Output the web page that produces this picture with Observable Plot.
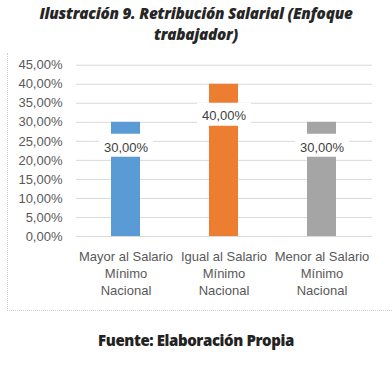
<!DOCTYPE html>
<html>
<head>
<meta charset="utf-8">
<script src="https://cdn.jsdelivr.net/npm/d3@7"></script>
<script src="https://cdn.jsdelivr.net/npm/@observablehq/plot@0.6"></script>
<style>
  html, body { margin: 0; padding: 0; background: #fff; }
  #wrap { position: relative; width: 392px; height: 369px; overflow: hidden; background: #fff; }
  #title { position: absolute; left: 0; top: 3px; width: 392px; text-align: center;
    font-family: "Open Sans", sans-serif; font-weight: 800; font-style: italic;
    font-size: 15.3px; line-height: 21px; color: #262626; letter-spacing: -0.25px; }
  #frame { position: absolute; left: 7px; top: 53px; width: 400px; height: 257px;
    border-left: 1px dotted #cfcfcf; border-bottom: 1px dotted #cfcfcf; }
  #chart { position: absolute; left: 0; top: 45px; }
  #caption { position: absolute; left: 0; top: 330px; width: 392px; text-align: center;
    font-family: "Open Sans", sans-serif; font-weight: 800; font-size: 15px;
    line-height: 20px; color: #222; letter-spacing: -0.4px; }
</style>
</head>
<body>
<div id="wrap">
  <div id="title">Ilustración 9. Retribución Salarial (Enfoque<br>trabajador)</div>
  <div id="frame"></div>
  <div id="chart"></div>
  <div id="caption">Fuente: Elaboración Propia</div>
</div>
<script>
const categories = ["Mayor al Salario Mínimo Nacional", "Igual al Salario Mínimo Nacional", "Menor al Salario Mínimo Nacional"];
const tickLabels = ["Mayor al Salario\nMínimo\nNacional", "Igual al Salario\nMínimo\nNacional", "Menor al Salario\nMínimo\nNacional"];
const values = [0.30, 0.40, 0.30];
const colors = ["#5B9BD5", "#ED7D31", "#A5A5A5"];
const yTicks = [0, 0.05, 0.10, 0.15, 0.20, 0.25, 0.30, 0.35, 0.40, 0.45];

const data = categories.map((c, i) => ({cat: c, value: values[i]}));
const fmt = d => (d * 100).toFixed(2).replace(".", ",") + "%";

// rectangular label-box symbol (white background behind data labels)
const labelBox = {draw(ctx) { ctx.rect(-27, -11.5, 54, 23); }};

const low = data.filter(d => d.value < 0.35);
const high = data.filter(d => d.value >= 0.35);

const chart = Plot.plot({
  width: 392,
  height: 270,
  marginLeft: 76,
  marginRight: 20,
  marginTop: 19.7,
  marginBottom: 79,
  style: {fontFamily: "'Liberation Sans', sans-serif", fontSize: "13px", color: "#595959", background: "transparent", overflow: "visible"},
  x: {domain: categories, paddingInner: 0.7, paddingOuter: 0.35, label: null},
  y: {domain: [0, 0.45], label: null},
  color: {domain: categories, range: colors},
  marks: [
    Plot.gridY(yTicks, {stroke: "#d9d9d9", strokeOpacity: 1}),
    Plot.axisY(yTicks, {tickSize: 0, tickPadding: 14, tickFormat: fmt, fill: "#595959", fontSize: 13, label: null}),
    Plot.axisX({tickSize: 0, tickPadding: 12, tickFormat: d => tickLabels[categories.indexOf(d)], lineHeight: 1.31, fill: "#595959", fontSize: 13, label: null}),
    Plot.barY(data, {x: "cat", y: "value", fill: "cat"}),
    Plot.dot(low, {x: "cat", y: "value", symbol: labelBox, r: 5, fill: "#fff", stroke: "none", dy: 23}),
    Plot.dot(high, {x: "cat", y: "value", symbol: labelBox, r: 5, fill: "#fff", stroke: "none", dy: 30}),
    Plot.text(low, {x: "cat", y: "value", text: d => fmt(d.value), dy: 26, fill: "#404040", fontSize: 13}),
    Plot.text(high, {x: "cat", y: "value", text: d => fmt(d.value), dy: 32, fill: "#404040", fontSize: 13})
  ]
});
document.getElementById("chart").appendChild(chart);
</script>
</body>
</html>
